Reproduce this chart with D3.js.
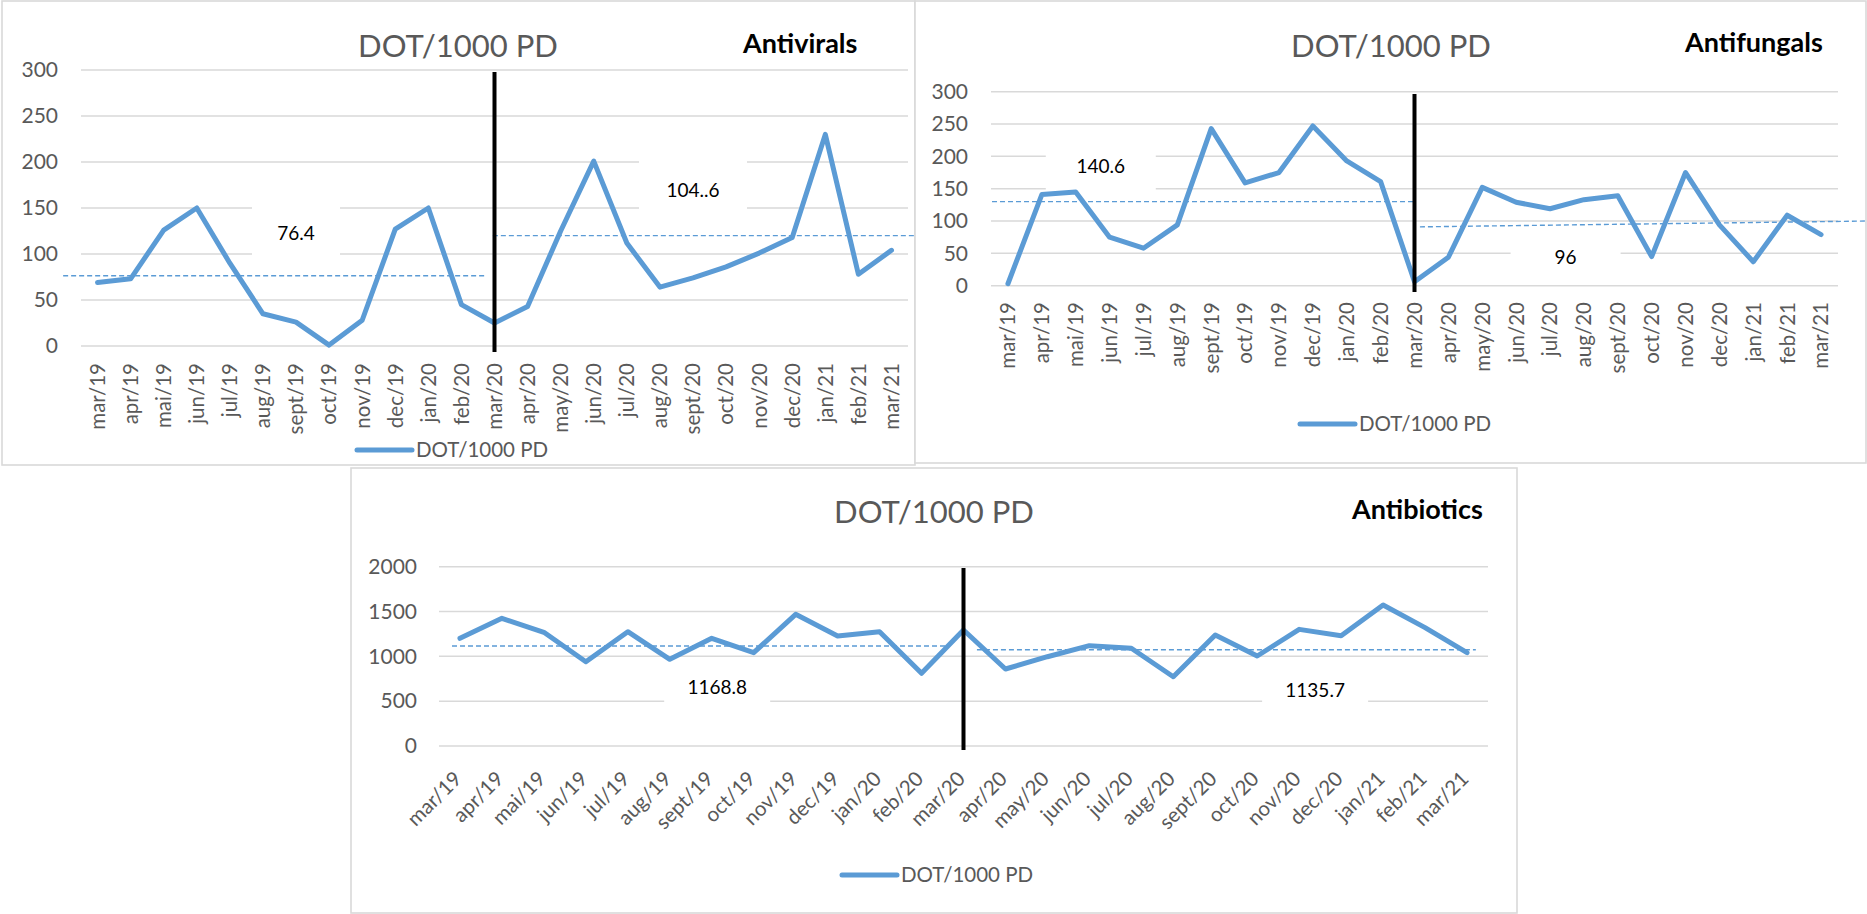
<!DOCTYPE html>
<html><head><meta charset="utf-8">
<script src="https://cdn.jsdelivr.net/npm/d3@7"></script>
<style>
html,body{margin:0;padding:0;background:#fff;}
svg{display:block;}
text{font-family:Lato,"Open Sans",sans-serif;}
</style></head>
<body><svg id="c" width="1867" height="914"></svg>
<script>
// ---------------- data ----------------
const months = ["mar/19","apr/19","mai/19","jun/19","jul/19","aug/19","sept/19","oct/19","nov/19","dec/19","jan/20","feb/20",
  "mar/20","apr/20","may/20","jun/20","jul/20","aug/20","sept/20","oct/20","nov/20","dec/20","jan/21","feb/21","mar/21"];
const antivirals  = [69,73,126,150,90,35,26,1,28,127,150,45,25,43,125,201,112,64,74,86,101,118,230,78,104];
const antifungals = [3,141,145,75,58,94,243,159,175,247,193,161,6,44,152,129,119,133,139,45,175,94,37,109,79];
const antibiotics = [1201,1424,1268,940,1275,967,1201,1041,1469,1227,1275,811,1294,859,996,1119,1090,773,1238,1004,1301,1230,1573,1320,1041];
const ticksSmall = [0,50,100,150,200,250,300];
const ticksLarge = [0,500,1000,1500,2000];
// dashed period-average lines: [start value, end value] per period
const antiviralMeans  = [[76.4,76.4],[120,120]];
const antifungalMeans = [[130,130],[91,100]];
const antibioticMeans = [[1115,1115],[1074,1074]];
// annotation texts
const antiviralNotes  = ["76.4","104..6"];
const antifungalNotes = ["140.6","96"];
const antibioticNotes = ["1168.8","1135.7"];
const seriesName = "DOT/1000 PD";
const chartTitle = "DOT/1000 PD";

// ---------------- layout ----------------
const panels = [
 { name:"Antivirals", data:antivirals, ticks:ticksSmall, max:300,
   frame:[2,1,913,464], x0:81, x1:908, yTop:70, yBot:346, tickX:58,
   rot:-90, labY:363, vTop:72, vBot:352,
   means:antiviralMeans, meanSpan:[[-0.54,12.27],[12.45,25.27]],
   notes:antiviralNotes, notePos:[[6.5,115],[18.5,162]], noteBox:[88,108],
   titleX:458, titleY:57, nameX:743, nameY:53,
   legX:357, legY:450 },
 { name:"Antifungals", data:antifungals, ticks:ticksSmall, max:300,
   frame:[915,1,951,462], x0:991, x1:1838, yTop:91.7, yBot:285.7, tickX:968,
   rot:-90, labY:302, vTop:94, vBot:292,
   means:antifungalMeans, meanSpan:[[0.03,12.5],[12.66,25.86]],
   notes:antifungalNotes, notePos:[[3.24,174],[16.96,33.6]], noteBox:[110,110],
   titleX:1391, titleY:57, nameX:1685, nameY:52,
   legX:1300, legY:424 },
 { name:"Antibiotics", data:antibiotics, ticks:ticksLarge, max:2000,
   frame:[351,468,1166,445], x0:439, x1:1488, yTop:566.7, yBot:746, tickX:417,
   rot:-45, labY:780, vTop:568, vBot:750,
   means:antibioticMeans, meanSpan:[[0.31,12.13],[12.82,24.71]],
   notes:antibioticNotes, notePos:[[6.63,580],[20.88,547]], noteBox:[106,106],
   titleX:934, titleY:523, nameX:1352, nameY:519,
   legX:842, legY:875 }
];

const BLUE = "#5b9bd5", GRID = "#d9d9d9", GREY = "#595959";
const svg = d3.select("#c");

panels.forEach(p => {
  const g = svg.append("g");
  // frame
  g.append("rect").attr("x",p.frame[0]).attr("y",p.frame[1]).attr("width",p.frame[2]).attr("height",p.frame[3])
    .attr("fill","#fff").attr("stroke",GRID).attr("stroke-width",1.6);

  const n = months.length;
  const band = d3.scaleLinear().domain([0,n]).range([p.x0,p.x1]);   // position in band units
  const x = d3.scaleBand().domain(months).range([p.x0,p.x1]);
  const y = d3.scaleLinear().domain([0,p.max]).range([p.yBot,p.yTop]);
  const cx = m => x(m) + x.bandwidth()/2;

  // gridlines
  g.append("g").selectAll("line").data(p.ticks).join("line")
    .attr("x1",p.x0).attr("x2",p.x1).attr("y1",d=>y(d)).attr("y2",d=>y(d))
    .attr("stroke",GRID).attr("stroke-width",1.5);

  // y tick labels
  const yAxis = d3.axisLeft(y).tickValues(p.ticks).tickFormat(d3.format("d")).tickSize(0).tickPadding(0);
  const ya = g.append("g").attr("transform",`translate(${p.tickX},0)`).call(yAxis);
  ya.select(".domain").remove();
  ya.selectAll("text").attr("fill",GREY).style("font-size","21px").style("font-family","Lato");

  // annotation white boxes
  p.notes.forEach((t,i) => {
    const bx = band(p.notePos[i][0]), by = y(p.notePos[i][1]);
    g.append("rect").attr("x",bx - p.noteBox[i]/2).attr("y",by-36).attr("width",p.noteBox[i]).attr("height",55)
      .attr("fill","#fff");
  });

  // dashed mean lines
  p.means.forEach((m,i) => {
    g.append("line").attr("x1",band(p.meanSpan[i][0])).attr("x2",band(p.meanSpan[i][1]))
      .attr("y1",y(m[0])).attr("y2",y(m[1]))
      .attr("stroke",BLUE).attr("stroke-width",1.4).attr("stroke-dasharray","5,3");
  });

  // data line
  const line = d3.line().x((d,i)=>cx(months[i])).y(d=>y(d));
  g.append("path").datum(p.data).attr("d",line).attr("fill","none")
    .attr("stroke",BLUE).attr("stroke-width",5).attr("stroke-linejoin","round").attr("stroke-linecap","round");

  // vertical black line at mar/20
  const vx = cx("mar/20");
  g.append("line").attr("x1",vx).attr("x2",vx).attr("y1",p.vTop).attr("y2",p.vBot)
    .attr("stroke","#000").attr("stroke-width",4);

  // annotation texts
  p.notes.forEach((t,i) => {
    g.append("text").attr("x",band(p.notePos[i][0])).attr("y",y(p.notePos[i][1]))
      .attr("text-anchor","middle").attr("fill","#000").style("font-size","19px").text(t);
  });

  // x tick labels
  const xl = g.append("g").selectAll("text").data(months).join("text")
    .attr("fill",GREY).style("font-size","20.5px").attr("text-anchor","end").text(d=>d);
  if (p.rot === -90) {
    xl.attr("transform",d=>`translate(${cx(d)},${p.labY}) rotate(-90)`).attr("dy","0.36em");
  } else {
    xl.attr("transform",d=>`translate(${cx(d)+3},${p.labY}) rotate(-45)`);
  }

  // title
  g.append("text").attr("x",p.titleX).attr("y",p.titleY).attr("text-anchor","middle")
    .attr("fill",GREY).style("font-size","31px").text(chartTitle);
  g.append("text").attr("x",p.nameX).attr("y",p.nameY).attr("fill","#000")
    .style("font-size","27px").style("font-weight","bold").text(p.name);

  // legend
  g.append("line").attr("x1",p.legX).attr("x2",p.legX+55).attr("y1",p.legY).attr("y2",p.legY)
    .attr("stroke",BLUE).attr("stroke-width",5).attr("stroke-linecap","round");
  g.append("text").attr("x",p.legX+59).attr("y",p.legY+7).attr("fill",GREY)
    .style("font-size","20.5px").text(seriesName);
});
</script>
</body></html>
